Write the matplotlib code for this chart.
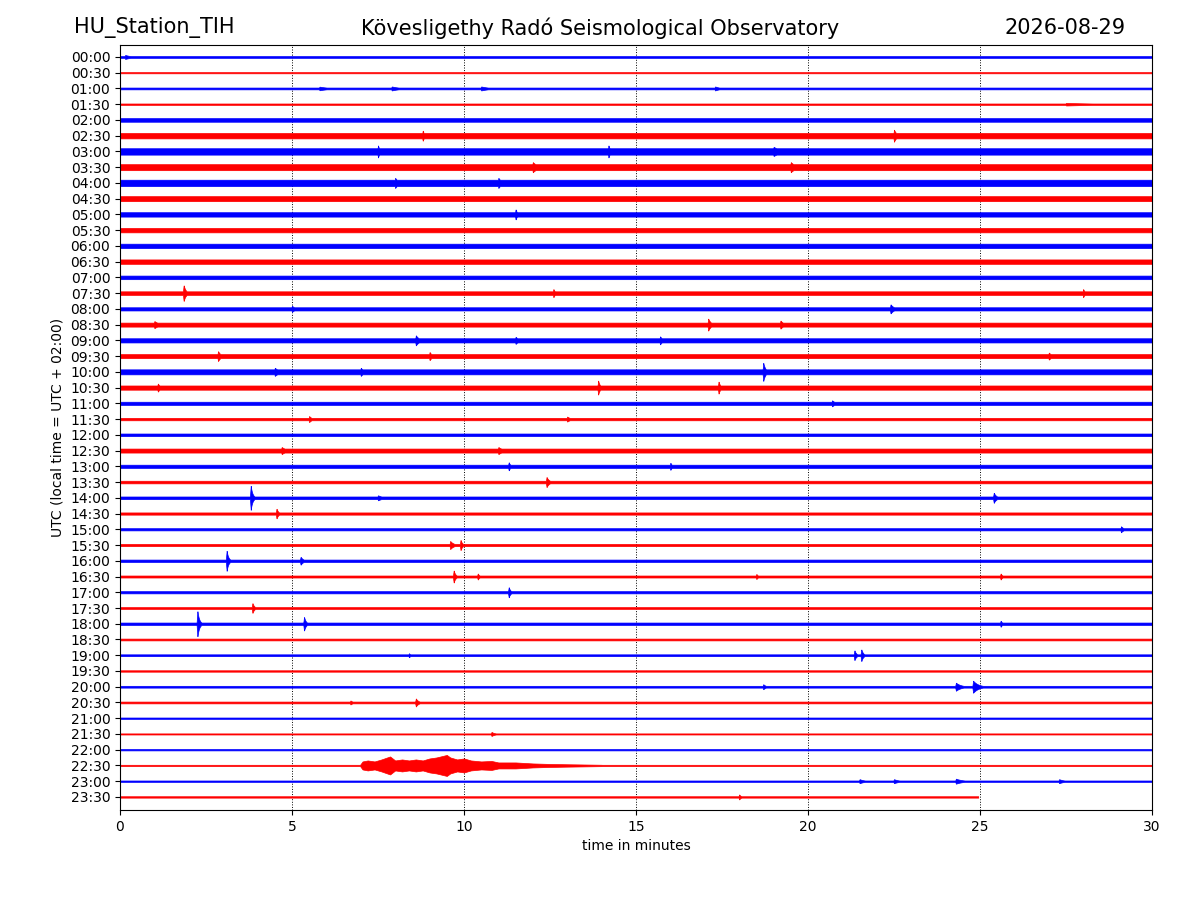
import numpy as np
import matplotlib
matplotlib.use("Agg")
import matplotlib.pyplot as plt

# ---------------- data ----------------
row_labels = ["00:00", "00:30", "01:00", "01:30", "02:00", "02:30", "03:00", "03:30",
              "04:00", "04:30", "05:00", "05:30", "06:00", "06:30", "07:00", "07:30",
              "08:00", "08:30", "09:00", "09:30", "10:00", "10:30", "11:00", "11:30",
              "12:00", "12:30", "13:00", "13:30", "14:00", "14:30", "15:00", "15:30",
              "16:00", "16:30", "17:00", "17:30", "18:00", "18:30", "19:00", "19:30",
              "20:00", "20:30", "21:00", "21:30", "22:00", "22:30", "23:00", "23:30"]

# typical half-width of the noise band of each row (pixels)
noise_level = [0.9, 0.6, 0.9, 0.7, 1.8, 2.7, 3.2, 3.0, 3.2, 2.5, 2.2, 2.2,
               2.2, 2.2, 1.8, 1.8, 1.6, 2.0, 2.1, 2.0, 2.5, 2.1, 1.6, 1.2,
               1.3, 2.0, 1.6, 1.3, 1.3, 1.1, 1.1, 1.1, 1.2, 1.0, 1.1, 0.9,
               1.2, 0.9, 0.9, 0.7, 0.9, 0.9, 0.7, 0.55, 0.7, 0.65, 0.7, 0.7]

# end of the recorded data in each row (minutes)
row_end = [30.0] * 47 + [24.95]

# discrete events: (row, onset minute, peak half-width px, decay minutes)
events = [
    (0, 0.15, 2.0, 0.4),
    (2, 5.8, 1.8, 0.6), (2, 7.9, 2.0, 0.5), (2, 10.5, 2.0, 0.5), (2, 17.3, 2.0, 0.3),
    (3, 27.5, 1.3, 2.5),
    (5, 8.8, 5.0, 0.1), (5, 22.5, 6.0, 0.15),
    (6, 7.5, 6.0, 0.1), (6, 14.2, 6.0, 0.1), (6, 19.0, 4.5, 0.5),
    (7, 12.0, 5.0, 0.3), (7, 19.5, 5.0, 0.3),
    (8, 8.0, 5.0, 0.2), (8, 11.0, 5.0, 0.2),
    (10, 11.5, 5.0, 0.1),
    (15, 1.85, 8.0, 0.12), (15, 12.6, 4.0, 0.1), (15, 28.0, 4.0, 0.1),
    (16, 5.0, 3.0, 0.2), (16, 22.4, 4.5, 0.2),
    (17, 1.0, 3.5, 0.3), (17, 17.1, 6.0, 0.15), (17, 19.2, 4.0, 0.2),
    (18, 8.6, 5.0, 0.2), (18, 11.5, 3.5, 0.2), (18, 15.7, 4.0, 0.15),
    (19, 2.85, 5.0, 0.15), (19, 9.0, 4.0, 0.15), (19, 27.0, 3.5, 0.2),
    (20, 4.5, 4.0, 0.3), (20, 7.0, 4.0, 0.2), (20, 18.7, 9.0, 0.12),
    (21, 1.1, 4.0, 0.15), (21, 13.9, 7.0, 0.1), (21, 17.4, 6.0, 0.1),
    (22, 20.7, 3.0, 0.2),
    (23, 5.5, 3.0, 0.15), (23, 13.0, 2.5, 0.2),
    (25, 4.7, 3.5, 0.3), (25, 11.0, 3.5, 0.3),
    (26, 11.3, 4.0, 0.1), (26, 16.0, 3.5, 0.1),
    (27, 12.4, 5.0, 0.15),
    (28, 3.8, 12.0, 0.1), (28, 7.5, 2.5, 0.3), (28, 25.4, 5.0, 0.15),
    (29, 4.55, 5.0, 0.1),
    (30, 29.1, 3.0, 0.15),
    (31, 9.6, 4.0, 0.2), (31, 9.9, 5.0, 0.1),
    (32, 3.1, 10.0, 0.1), (32, 5.25, 4.0, 0.15),
    (33, 9.7, 6.0, 0.1), (33, 10.4, 3.0, 0.1), (33, 18.5, 2.5, 0.1), (33, 25.6, 3.0, 0.1),
    (34, 11.3, 5.0, 0.1),
    (35, 3.85, 5.0, 0.1),
    (36, 2.25, 13.0, 0.1), (36, 5.35, 7.0, 0.1), (36, 25.6, 3.0, 0.1),
    (38, 8.4, 2.0, 0.1), (38, 21.35, 5.0, 0.1), (38, 21.55, 6.0, 0.1),
    (40, 18.7, 2.5, 0.15), (40, 24.3, 4.0, 0.3), (40, 24.8, 6.0, 0.3),
    (41, 6.7, 2.0, 0.15), (41, 8.6, 4.0, 0.15),
    (43, 10.8, 2.0, 0.2),
    (46, 21.5, 2.0, 0.3), (46, 22.5, 2.0, 0.3), (46, 24.3, 2.5, 0.4), (46, 27.3, 2.0, 0.3),
    (47, 18.0, 2.5, 0.1),
]

# envelope of the long event in the 22:30 row (minutes, half-width px)
quake_row = 45
quake_t = [6.98, 7.05, 7.2, 7.4, 7.6, 7.85, 8.0, 8.2, 8.4, 8.6, 8.8, 9.0, 9.2,
           9.5, 9.6, 9.8, 10.0, 10.2, 10.5, 10.8, 11.0, 11.5, 12.0, 12.5, 13.0, 14.0]
quake_amp = [0.7, 4.0, 5.0, 4.0, 6.0, 9.0, 5.0, 6.0, 5.0, 6.0, 5.0, 7.0, 8.0,
             10.5, 8.0, 6.0, 7.0, 5.0, 4.0, 4.5, 3.0, 3.0, 2.0, 1.5, 1.2, 0.7]

colors = ["#0000ff", "#ff0000"]

# ---------------- figure ----------------
fig = plt.figure(figsize=(12, 9), dpi=100)
ax = fig.add_axes([0.1, 0.1, 0.86, 0.85])

PX_PER_UNIT = 15.74  # pixels between neighbouring rows

for i, lab in enumerate(row_labels):
    t = np.arange(0.0, row_end[i] + 1e-9, 0.004)
    env = np.full_like(t, noise_level[i])
    for (r, c, a, d) in events:
        if r != i:
            continue
        rise = np.clip(1 - (c - t) / 0.025, 0, 1)
        decay = np.exp(-np.clip(t - c, 0, None) / (d / 2.0))
        shape = np.where(t < c, rise, decay) * a
        env = np.maximum(env, shape)
    if i == quake_row:
        qe = np.interp(t, quake_t, quake_amp, left=0, right=0)
        env = np.maximum(env, qe)
    env = env / PX_PER_UNIT
    col = colors[i % 2]
    ax.fill_between(t, i - env, i + env, color=col, linewidth=0.5, edgecolor=col)

ax.set_xlim(0, 30)
ax.set_ylim(47.83, -0.76)
ax.set_yticks(range(len(row_labels)))
ax.set_yticklabels(row_labels)
ax.set_xticks([0, 5, 10, 15, 20, 25, 30])
ax.xaxis.grid(True, linestyle=":", color="black", linewidth=0.7)
ax.set_axisbelow(True)
ax.set_xlabel("time in minutes")
ax.set_ylabel("UTC (local time = UTC + 02:00)")

fig.text(0.062, 0.969, "HU_Station_TIH", fontsize=15, ha="left", va="center")
fig.text(0.5, 0.969, "Kövesligethy Radó Seismological Observatory", fontsize=15,
         ha="center", va="center")
fig.text(0.938, 0.969, "2026-08-29", fontsize=15, ha="right", va="center")

fig.savefig("out.png", dpi=100)
